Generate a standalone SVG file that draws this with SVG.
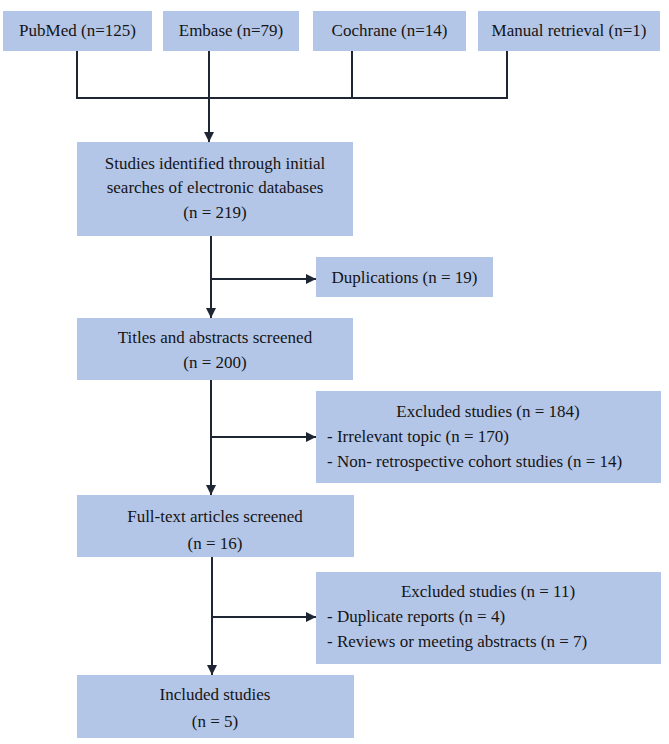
<svg xmlns="http://www.w3.org/2000/svg" width="669" height="744" viewBox="0 0 669 744">
<style>
.box{fill:#b4c6e7;stroke:none}
.c{text-anchor:middle}
.ln{stroke:#1e2533;stroke-width:2;fill:none}
</style>
<defs>
<marker id="ah" viewBox="0 0 10 10" refX="10" refY="5" markerWidth="10" markerHeight="10" markerUnits="userSpaceOnUse" orient="auto">
<path d="M0,0 L10,5 L0,10 z" fill="#1e2533"/>
</marker>
</defs>
<rect width="669" height="744" fill="#ffffff"/>
<g id="connectors">
<path class="ln" d="M77,51 V98 H507 V51"/>
<path class="ln" d="M352,51 V98"/>
<path class="ln" d="M209,51 V142" marker-end="url(#ah)"/>
<path class="ln" d="M211,236 V318" marker-end="url(#ah)"/>
<path class="ln" d="M211,279 H316" marker-end="url(#ah)"/>
<path class="ln" d="M211,380 V495" marker-end="url(#ah)"/>
<path class="ln" d="M211,437 H316" marker-end="url(#ah)"/>
<path class="ln" d="M212,557 V675" marker-end="url(#ah)"/>
<path class="ln" d="M212,617 H316" marker-end="url(#ah)"/>
</g>
<g font-family="Liberation Serif, DejaVu Serif, serif" font-size="17" fill="#141414">
<g id="pubmed"><rect class="box" x="3" y="11" width="149" height="40"/><text class="c" x="77.5" y="36">PubMed (n=125)</text></g>
<g id="embase"><rect class="box" x="163" y="11" width="136" height="40"/><text class="c" x="231" y="36">Embase (n=79)</text></g>
<g id="cochrane"><rect class="box" x="313" y="11" width="153" height="40"/><text class="c" x="389.5" y="36">Cochrane (n=14)</text></g>
<g id="manual"><rect class="box" x="478" y="11" width="182" height="40"/><text class="c" x="569" y="36">Manual retrieval (n=1)</text></g>
<g id="identified"><rect class="box" x="77" y="142" width="276" height="94"/>
<text class="c" x="215" y="169">Studies identified through initial</text>
<text class="c" x="215" y="193">searches of electronic databases</text>
<text class="c" x="215" y="218">(n = 219)</text></g>
<g id="duplications"><rect class="box" x="316" y="257" width="177" height="40"/><text class="c" x="404.5" y="283">Duplications (n = 19)</text></g>
<g id="titles"><rect class="box" x="77" y="318" width="276" height="62"/>
<text class="c" x="215" y="343">Titles and abstracts screened</text>
<text class="c" x="215" y="368">(n = 200)</text></g>
<g id="excluded1"><rect class="box" x="316" y="391" width="345" height="92"/>
<text class="c" x="488" y="417">Excluded studies (n = 184)</text>
<text x="327" y="442">- Irrelevant topic (n = 170)</text>
<text x="327" y="467">- Non- retrospective cohort studies (n = 14)</text></g>
<g id="fulltext"><rect class="box" x="77" y="495" width="277" height="62"/>
<text class="c" x="215" y="522">Full-text articles screened</text>
<text class="c" x="215" y="549">(n = 16)</text></g>
<g id="excluded2"><rect class="box" x="316" y="572" width="345" height="92"/>
<text class="c" x="488" y="597">Excluded studies (n = 11)</text>
<text x="327" y="622">- Duplicate reports (n = 4)</text>
<text x="327" y="647">- Reviews or meeting abstracts (n = 7)</text></g>
<g id="included"><rect class="box" x="77" y="675" width="277" height="63"/>
<text class="c" x="215" y="700">Included studies</text>
<text class="c" x="215" y="727">(n = 5)</text></g>
</g>
</svg>
